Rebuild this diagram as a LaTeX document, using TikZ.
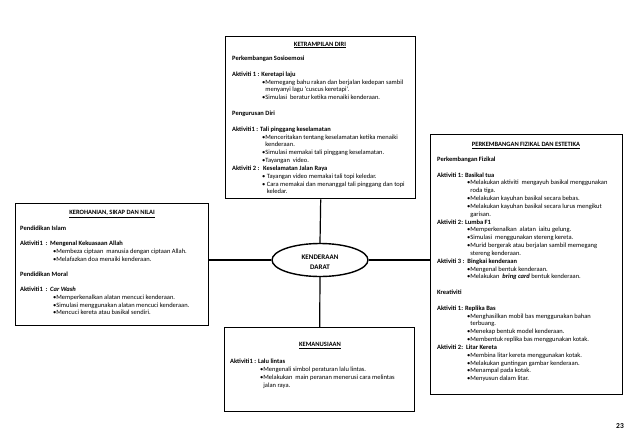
\documentclass[tikz,border=0pt]{standalone}
\usepackage{fontspec}
\setmainfont{Carlito}
\usetikzlibrary{shapes.geometric}
\newcommand\fs{\fontsize{6.5}{7.85}\selectfont}
\newcommand\LN[1]{\hbox{#1}}
\newcommand\BX[1]{\hbox{\bfseries #1}}
\newcommand\BU[2]{\hbox{\kern#1pt •#2}}
\newcommand\CT[2]{\hbox{\kern#1pt\phantom{•}#2}}
\tikzset{
  boxnode/.style={draw=black, line width=1.4pt, inner sep=0pt, anchor=north west, fill=white},
  headnode/.style={anchor=base, inner sep=0pt, font=\fs\bfseries},
  bodynode/.style={anchor=base west, inner sep=0pt},
  conn/.style={draw=black, line width=1.2pt}
}
\begin{document}
\begin{tikzpicture}[x=1pt, y=-1pt]
\useasboundingbox[fill=white] (0,0) rectangle (638,442);

% boxes
\node[boxnode, minimum width=190pt, minimum height=162pt] (tb) at (225,36) {};
\node[boxnode, minimum width=193pt, minimum height=122pt] (lb) at (15,203) {};
\node[boxnode, minimum width=192pt, minimum height=260pt] (rb) at (430,134) {};
\node[boxnode, minimum width=190pt, minimum height=84pt] (bb) at (224,327) {};
\node[draw=black, line width=1.4pt, ellipse, minimum width=96pt, minimum height=33pt, inner sep=0pt, fill=white] (ell) at (320,260) {};
\node[align=center, inner sep=0pt, font=\fontsize{7}{10}\selectfont\bfseries] (ellt) at (320,262) {KENDERAAN\\DARAT};

% connectors
\draw[conn] (tb.south) -- (ell.north);
\draw[conn] (ell.south) -- (bb.north);
\draw[conn] (ell.west) -- (ell.west -| lb.east);
\draw[conn] (ell.east) -- (ell.east -| rb.west);

% top box
\node[headnode] (tbh) at (320,46) {\underline{KETRAMPILAN DIRI}};
\node[bodynode] (tbt) at (232,60.5) {\vtop{\fs\lineskiplimit=-\maxdimen
\BX{Perkembangan Sosioemosi}
\LN{}
\BX{Aktiviti 1 : Keretapi laju}
\BU{30}{Memegang bahu rakan dan berjalan kedepan sambil}
\CT{30}{menyanyi lagu ‘cuscus keretapi’.}
\BU{30}{Simulasi\ \ beratur ketika menaiki kenderaan.}
\LN{}
\BX{Pengurusan Diri}
\LN{}
\BX{Aktiviti1 : Tali pinggang keselamatan}
\BU{30}{Menceritakan tentang keselamatan ketika menaiki}
\CT{30}{kenderaan.}
\BU{30}{Simulasi memakai tali pinggang keselamatan.}
\BU{30}{Tayangan\ \ video.}
\BX{\hbox to 31pt{Aktiviti 2 :\hfil}Keselamatan Jalan Raya}
\BU{30}{ Tayangan video memakai tali topi keledar.}
\BU{30}{ Cara memakai dan menanggal tali pinggang dan topi}
\hbox{\kern30pt\phantom{• }keledar.}
}};

% left box
\node[headnode] (lbh) at (112,214.5) {\underline{KEROHANIAN, SIKAP DAN NILAI}};
\node[bodynode] (lbt) at (20,230.5) {\vtop{\fontsize{6.5}{7.65}\selectfont\lineskiplimit=-\maxdimen
\BX{Pendidikan Islam}
\LN{}
\BX{\hbox to 30pt{Aktiviti1\ \ :\hfil}Mengenal Kekuasaan Allah}
\BU{33}{Membeza ciptaan\ \ manusia dengan ciptaan Allah.}
\BU{33}{Melafazkan doa menaiki kenderaan.}
\LN{}
\BX{Pendidikan Moral}
\LN{}
\BX{\hbox to 30pt{Aktiviti1\ \ :\hfil}\itshape Car Wash}
\BU{33}{Memperkenalkan alatan mencuci kenderaan.}
\BU{33}{Simulasi menggunakan alatan mencuci kenderaan.}
\BU{33}{Mencuci kereta atau basikal sendiri.}
}};

% right box
\node[headnode] (rbh) at (526,146.5) {\underline{PERKEMBANGAN FIZIKAL DAN ESTETIKA}};
\node[bodynode] (rbt) at (437,161.5) {\vtop{\fontsize{6.5}{7.83}\selectfont\lineskiplimit=-\maxdimen
\BX{Perkembangan Fizikal}
\LN{}
\BX{Aktiviti 1: Basikal tua}
\BU{30}{Melakukan aktiviti\ \ mengayuh basikal menggunakan}
\CT{30}{roda tiga.}
\BU{30}{Melakukan kayuhan basikal secara bebas.}
\BU{30}{Melakukan kayuhan basikal secara lurus mengikut}
\CT{30}{garisan.}
\BX{Aktiviti 2: Lumba F1}
\BU{30}{Memperkenalkan\ \ alatan\ \ iaitu gelung.}
\BU{30}{Simulasi\ \ menggunakan stereng kereta.}
\BU{30}{Murid bergerak atau berjalan sambil memegang}
\CT{30}{stereng kenderaan.}
\BX{Aktiviti 3 :\ \ Bingkai kenderaan}
\BU{30}{Mengenal bentuk kenderaan.}
\BU{30}{Melakukan\ \ \textbf{\itshape bring card} bentuk kenderaan.}
\LN{}
\BX{Kreativiti}
\LN{}
\BX{Aktiviti 1: Replika Bas}
\BU{30}{Menghasilkan mobil bas menggunakan bahan}
\CT{30}{terbuang.}
\BU{30}{Menekap bentuk model kenderaan.}
\BU{30}{Membentuk replika bas menggunakan kotak.}
\BX{Aktiviti 2:\ \ Litar Kereta}
\BU{30}{Membina litar kereta menggunakan kotak.}
\BU{30}{Melakukan guntingan gambar kenderaan.}
\BU{30}{Menampal pada kotak.}
\BU{30}{Menyusun dalam litar.}
}};

% bottom box
\node[headnode] (bbh) at (320,346.5) {\underline{KEMANUSIAAN}};
\node[bodynode] (bbt) at (230,363.5) {\vtop{\fs\lineskiplimit=-\maxdimen
\BX{Aktiviti1 : Lalu lintas}
\BU{30}{Mengenali simbol peraturan lalu lintas.}
\BU{30}{Melakukan\ \ main peranan menerusi cara melintas}
\CT{30}{jalan raya.}
}};

% page number
\node[anchor=base, inner sep=0pt, font=\fontsize{7.5}{9}\selectfont\bfseries] (pg) at (620,428) {23};
\end{tikzpicture}
\end{document}
